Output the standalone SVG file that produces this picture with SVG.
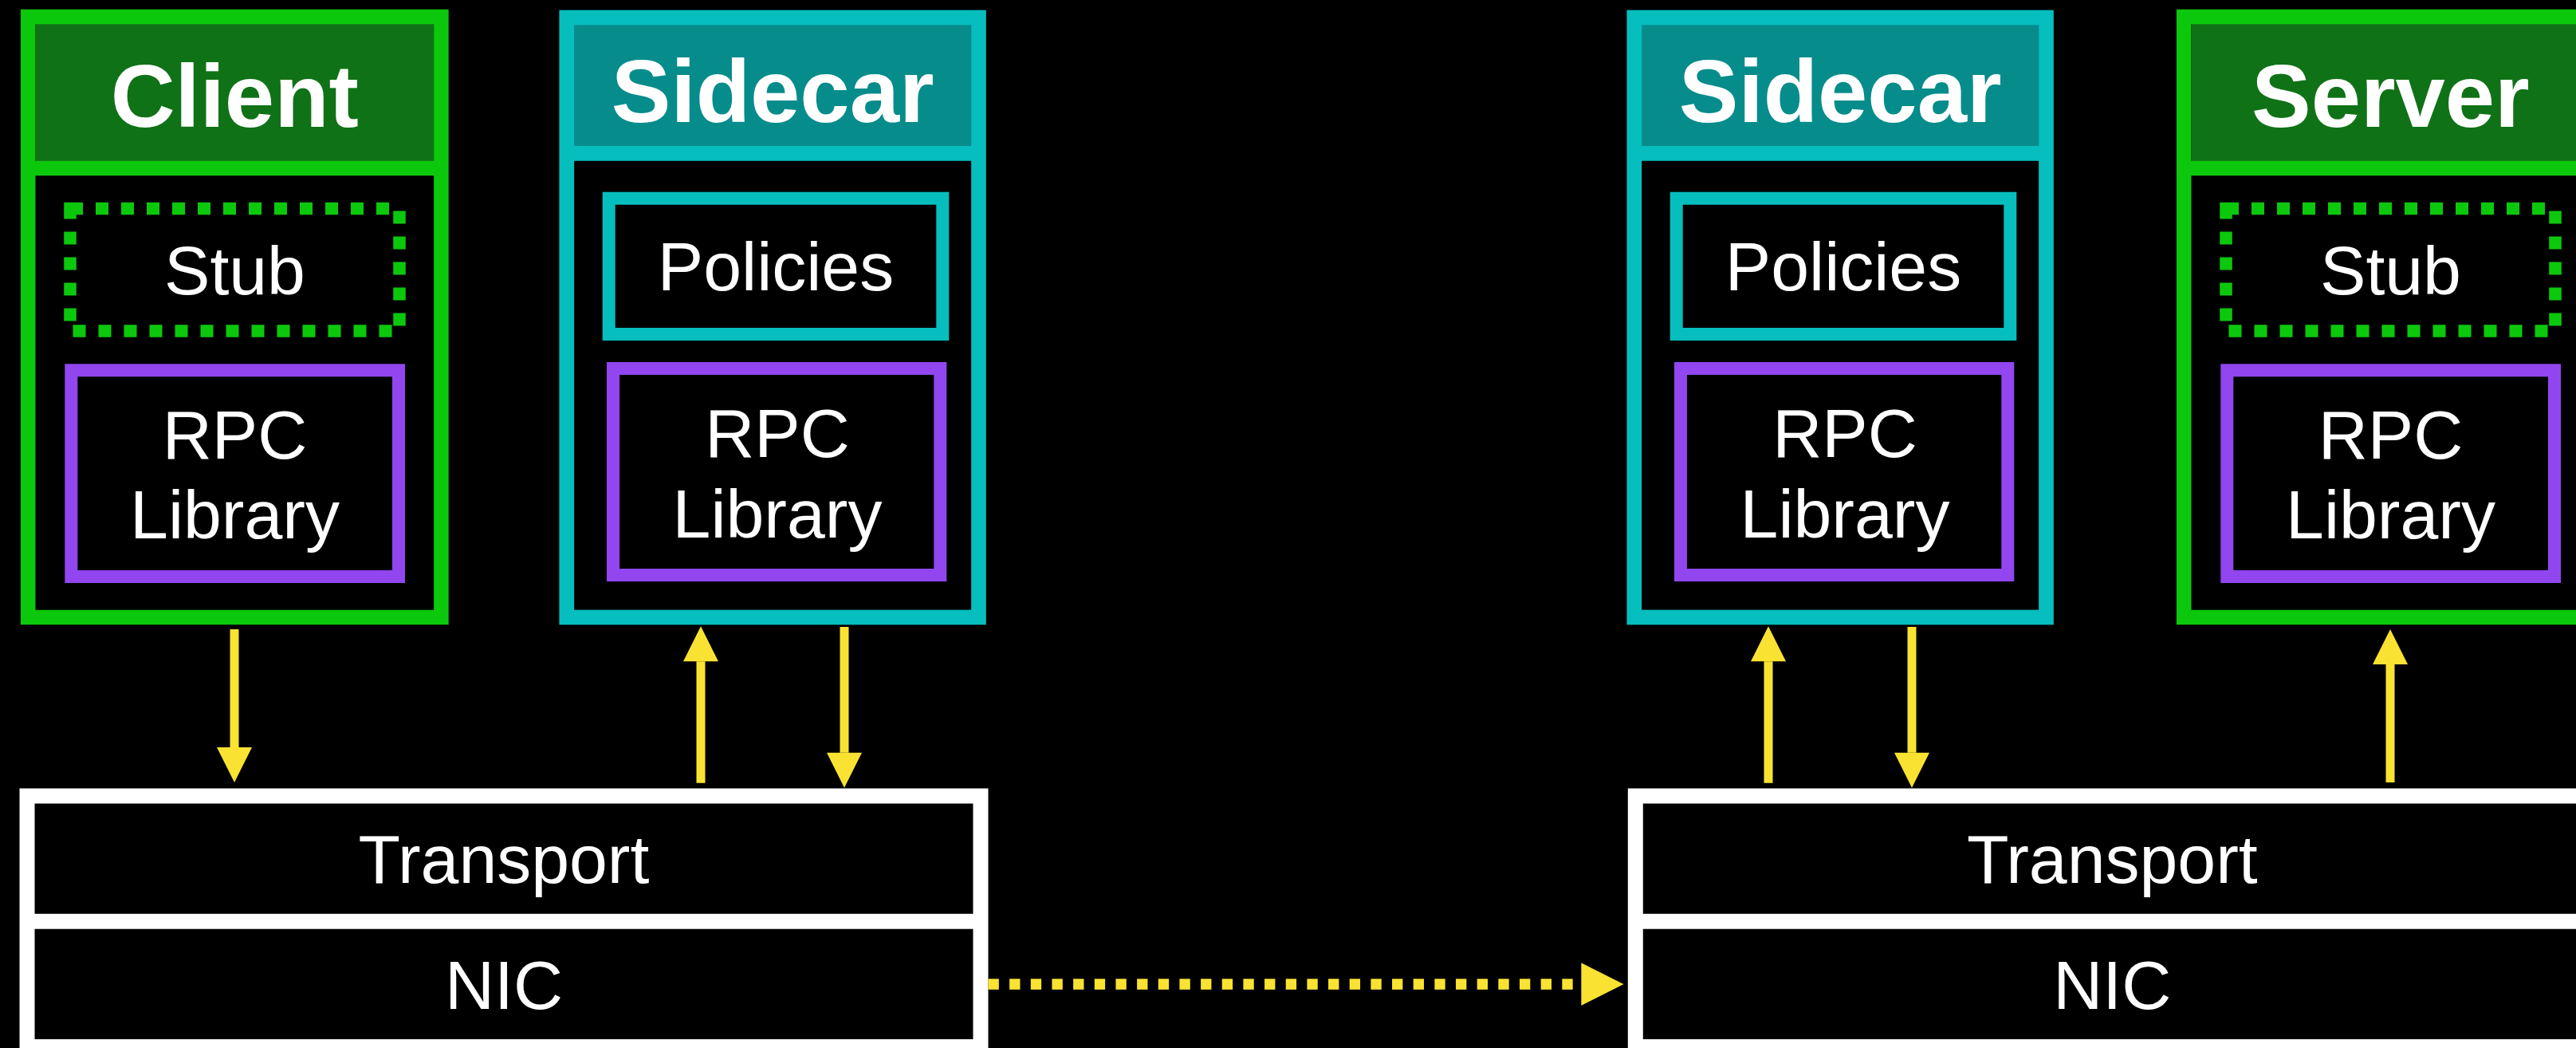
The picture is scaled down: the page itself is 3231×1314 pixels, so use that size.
<svg xmlns="http://www.w3.org/2000/svg" width="3231" height="1314" viewBox="0 0 3231 1314">
  <style>
    .green { fill: none; stroke: #0cc80c; stroke-width: 18.5; }
    .green-head { fill: #107217; }
    .green-bar { stroke: #0cc80c; stroke-width: 18.5; }
    .teal { fill: none; stroke: #06bebe; stroke-width: 18.7; }
    .teal-head { fill: #068c8b; }
    .teal-bar { stroke: #06bebe; stroke-width: 18.7; }
    .teal-inner { fill: none; stroke: #06bebe; stroke-width: 16; }
    .stub { fill: none; stroke: #0cc80c; stroke-width: 15.5; stroke-dasharray: 16 16; }
    .rpc { fill: none; stroke: #9146f0; stroke-width: 16; }
    .layer { fill: none; stroke: #ffffff; stroke-width: 19; }
    .layer-bar { stroke: #ffffff; stroke-width: 19; }
    .title { font-family: "Liberation Sans", Arial, Helvetica, sans-serif; font-weight: bold; font-size: 112px; fill: #ffffff; text-anchor: middle; }
    .label { font-family: "Liberation Sans", Arial, Helvetica, sans-serif; font-size: 86px; fill: #ffffff; text-anchor: middle; }
    .flow { stroke: #fae232; stroke-width: 11; fill: none; marker-end: url(#head); }
    .wire { stroke: #fae232; stroke-width: 13.33; fill: none; stroke-dasharray: 13.33 13.33; marker-end: url(#head); }
  </style>
  <defs>
    <marker id="head" viewBox="0 -2 4 4" refX="0" refY="0" markerWidth="4" markerHeight="4" markerUnits="strokeWidth" orient="auto" overflow="visible">
      <path d="M0,-2 L4,0 L0,2 Z" fill="#fae232"/>
    </marker>
    <!-- application box: header, stub and RPC library -->
    <g id="app-box">
      <rect class="green-head" x="44.8" y="30" width="499.4" height="172"/>
      <rect class="green" x="35.2" y="21" width="518.2" height="753"/>
      <line class="green-bar" x1="35.2" y1="211" x2="553.4" y2="211"/>
      <rect class="stub" x="88" y="261.5" width="413" height="153.5"/>
      <text class="label" x="294.5" y="369">Stub</text>
      <rect class="rpc" x="89.3" y="464.3" width="410.7" height="258.7"/>
      <text class="label" x="294.5" y="575">RPC</text>
      <text class="label" x="294.5" y="675">Library</text>
    </g>
    <!-- sidecar proxy box: header, policies and RPC library -->
    <g id="sidecar-box">
      <rect class="teal-head" x="720" y="31" width="498.5" height="152"/>
      <rect class="teal" x="710.8" y="22" width="516.7" height="752"/>
      <line class="teal-bar" x1="710.8" y1="192.3" x2="1227.5" y2="192.3"/>
      <text class="title" x="969.2" y="152.7">Sidecar</text>
      <rect class="teal-inner" x="763.7" y="248.7" width="418.6" height="170.3"/>
      <text class="label" x="973" y="364">Policies</text>
      <rect class="rpc" x="769" y="462" width="410.3" height="259"/>
      <text class="label" x="975" y="572.5">RPC</text>
      <text class="label" x="975" y="673.5">Library</text>
    </g>
    <!-- host network stack: transport over NIC -->
    <g id="stack-box">
      <rect class="layer" x="34" y="998" width="1196" height="314.5"/>
      <line class="layer-bar" x1="34" y1="1155.2" x2="1230" y2="1155.2"/>
      <text class="label" x="632" y="1107">Transport</text>
      <text class="label" x="632" y="1265">NIC</text>
    </g>
  </defs>

  <rect x="0" y="0" width="3231" height="1314" fill="#000000"/>

  <g id="client">
    <use href="#app-box"/>
    <text class="title" x="294.3" y="159">Client</text>
  </g>

  <g id="sidecar-left">
    <use href="#sidecar-box"/>
  </g>

  <g id="sidecar-right">
    <use href="#sidecar-box" transform="translate(1339 0)"/>
  </g>

  <g id="server">
    <use href="#app-box" transform="translate(2704 0)"/>
    <text class="title" x="2998.3" y="159">Server</text>
  </g>

  <g id="stack-left">
    <use href="#stack-box"/>
  </g>

  <g id="stack-right">
    <use href="#stack-box" transform="translate(2017.3 0)"/>
  </g>

  <g id="connectors">
    <line class="flow" x1="294" y1="789" x2="294" y2="937"/>
    <line class="flow" x1="879" y1="981.7" x2="879" y2="829.3"/>
    <line class="flow" x1="1059" y1="786" x2="1059" y2="943.7"/>
    <line class="flow" x1="2218" y1="981.7" x2="2218" y2="829.3"/>
    <line class="flow" x1="2398" y1="786" x2="2398" y2="943.7"/>
    <line class="flow" x1="2998" y1="981" x2="2998" y2="833"/>
    <line class="wire" x1="1239.5" y1="1234" x2="1983.3" y2="1234"/>
  </g>
</svg>
